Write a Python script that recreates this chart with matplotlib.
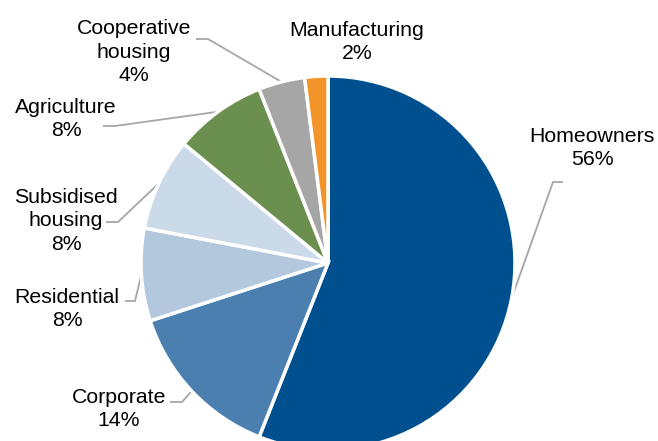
import numpy as np
import matplotlib
matplotlib.use("Agg")
import matplotlib.pyplot as plt

categories = ["Homeowners", "Corporate", "Residential", "Subsidised\nhousing",
              "Agriculture", "Cooperative\nhousing", "Manufacturing"]
values = [56, 14, 8, 8, 8, 4, 2]
colors = ["#00508F", "#4A7FAF", "#B3C8DC", "#CBDAE8", "#6A8F4F", "#A6A6A6", "#F29429"]

W, H = 658, 441
fig = plt.figure(figsize=(W / 100, H / 100), dpi=100)
ax = fig.add_axes([0, 0, 1, 1])

cx, cy, R = 328, H - 263, 187
wedges, _ = ax.pie(values, colors=colors, startangle=90, counterclock=False,
                   center=(cx, cy), radius=R,
                   wedgeprops=dict(edgecolor="white", linewidth=2.5))
ax.set_xlim(0, W)
ax.set_ylim(0, H)
ax.set_aspect("equal")
ax.axis("off")

# label layout (pixel coords, y from top): text centre, leader start, leader elbow
layout = [
    ((592, 148), (563, 182), (553, 182)),
    ((119, 409), (170, 402), (182, 402)),
    ((67, 309), (125, 301), (135, 301)),
    ((66, 221), (106, 222), (118, 222)),
    ((66, 119), (103, 126), (115, 126)),
    ((134, 52), (196, 39), (208, 39)),
    ((357, 42), None, None),
]

for w, cat, val, (tc, ls, le) in zip(wedges, categories, values, layout):
    ax.text(tc[0], H - tc[1], f"{cat}\n{val}%", ha="center", va="center",
            fontsize=15.3, family=["Liberation Sans", "DejaVu Sans"],
            color="#000000", linespacing=1.3)
    if ls is not None:
        ang = np.deg2rad((w.theta1 + w.theta2) / 2)
        ex, ey = cx + R * np.cos(ang), cy + R * np.sin(ang)
        ax.plot([ls[0], le[0], ex], [H - ls[1], H - le[1], ey],
                color="#A6A6A6", linewidth=1.3, solid_capstyle="butt", zorder=0.5)

fig.savefig("out.png", dpi=100)
